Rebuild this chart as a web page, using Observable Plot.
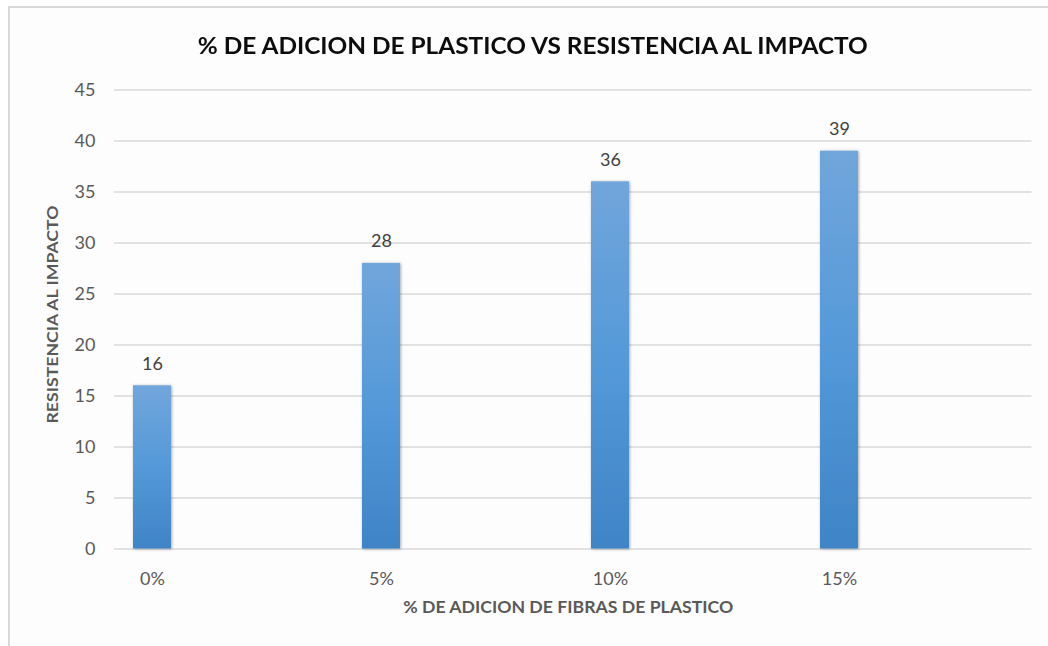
<!DOCTYPE html>
<html>
<head>
<meta charset="utf-8">
<script src="https://cdn.jsdelivr.net/npm/d3@7"></script>
<script src="https://cdn.jsdelivr.net/npm/@observablehq/plot@0.6"></script>
<style>
  html, body { margin: 0; padding: 0; background: #ffffff; }
  #chart { position: relative; width: 1048px; height: 646px; overflow: hidden; font-family: Lato, "Open Sans", sans-serif; }
  #frame { position: absolute; left: 8px; top: 6px; right: -4px; bottom: -4px;
           border-left: 2px solid #d9d9d9; border-top: 2px solid #d9d9d9; background: #fdfdfd; }
  #title { position: absolute; left: 0; top: 30px; width: 1066px; text-align: center;
           font-weight: 700; font-size: 23px; line-height: 30px; color: #0d0d0d; white-space: nowrap; }
  #title span { display: inline-block; transform-origin: 50% 50%; }
  #plot { position: absolute; left: 0; top: 80px; }
</style>
</head>
<body>
<div id="chart">
  <div id="frame"></div>
  <div id="title"><span>% DE ADICION DE PLASTICO VS RESISTENCIA AL IMPACTO</span></div>
  <div id="plot"></div>
</div>
<script>
// Percentage of plastic fibres added and the measured impact resistance
const categories = ["0%", "5%", "10%", "15%"];
const values = [16, 28, 36, 39];
const yTicks = [0, 5, 10, 15, 20, 25, 30, 35, 40, 45];
const xTitle = "% DE ADICION DE FIBRAS DE PLASTICO";
const yTitle = "RESISTENCIA AL IMPACTO";

const data = categories.map((c, i) => ({cat: c, value: values[i]}));

const chart = Plot.plot({
  width: 1048,
  height: 566,
  marginTop: 9.5,
  marginBottom: 97.5,
  marginLeft: 114,
  marginRight: 16.5,
  style: {fontFamily: "Lato, 'Open Sans', sans-serif", background: "transparent", overflow: "visible"},
  x: {domain: categories, paddingInner: 0.834, paddingOuter: 0.417, align: 0.101},
  y: {domain: [0, 45]},
  marks: [
    Plot.ruleY(yTicks, {stroke: "#d9d9d9", strokeWidth: 1.5}),
    Plot.barY(data, {x: "cat", y: "value", fill: "url(#barFill)"}),
    Plot.axisY(yTicks, {tickSize: 0, tickPadding: 19, fontSize: 18, color: "#595959", label: null}),
    Plot.axisX({tickSize: 0, tickPadding: 23, fontSize: 18, color: "#595959", label: null}),
    Plot.text(data, {x: "cat", y: "value", text: d => String(d.value), dy: -22, fill: "#404040", fontSize: 18}),
    Plot.text([xTitle], {frameAnchor: "bottom", dy: 64, dx: -5, fontSize: 17, fontWeight: "bold", fill: "#595959"}),
    Plot.text([yTitle], {frameAnchor: "left", textAnchor: "middle", rotate: -90, dx: -61.5, dy: -5, fontSize: 16, fontWeight: "bold", fill: "#595959"})
  ]
});

// Gradient fill and soft shadow for the bars
const svg = d3.select(chart);
const defs = svg.insert("defs", ":first-child");
const grad = defs.append("linearGradient").attr("id", "barFill")
  .attr("x1", 0).attr("y1", 0).attr("x2", 0).attr("y2", 1);
grad.append("stop").attr("offset", "0%").attr("stop-color", "#71a6db");
grad.append("stop").attr("offset", "50%").attr("stop-color", "#5499d9");
grad.append("stop").attr("offset", "100%").attr("stop-color", "#3f84c6");
const shadow = defs.append("filter").attr("id", "barShadow")
  .attr("x", "-30%").attr("y", "-10%").attr("width", "160%").attr("height", "120%");
shadow.append("feDropShadow").attr("dx", 0.8).attr("dy", 0.5).attr("stdDeviation", 1.6)
  .attr("flood-color", "#000").attr("flood-opacity", 0.35);
svg.selectAll('g[aria-label="bar"]').attr("filter", "url(#barShadow)");

document.getElementById("plot").appendChild(chart);

// Axis titles use a narrow set width
svg.selectAll('g[aria-label="text"] text').each(function () {
  const t = this.textContent;
  if (t === xTitle) d3.select(this).attr("textLength", 330).attr("lengthAdjust", "spacingAndGlyphs");
  if (t === yTitle) d3.select(this).attr("textLength", 218).attr("lengthAdjust", "spacingAndGlyphs");
});

// Fit the chart title to its width
const span = document.querySelector("#title span");
const w = span.getBoundingClientRect().width;
span.style.transform = `scaleX(${670 / w})`;
</script>
</body>
</html>
